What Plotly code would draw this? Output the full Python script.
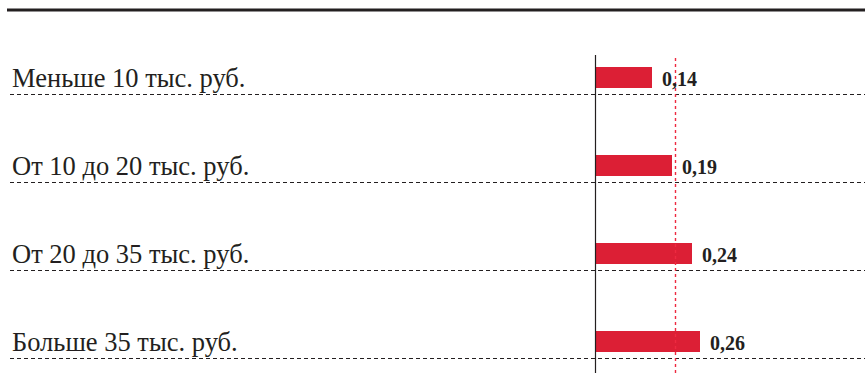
import plotly.graph_objects as go

categories = ["Меньше 10 тыс. руб.", "От 10 до 20 тыс. руб.", "От 20 до 35 тыс. руб.", "Больше 35 тыс. руб."]
values = [0.14, 0.19, 0.24, 0.26]
value_labels = ["0,14", "0,19", "0,24", "0,26"]
average = 0.20

W, H = 865, 373
x0_px = 595.5        # pixel of x=0
px_per_unit = 400
row_px = 88
first_center_px = 77.5

xr = [-x0_px / px_per_unit, (W - x0_px) / px_per_unit]
yr = [(H - first_center_px) / row_px, -first_center_px / row_px]

ypos = list(range(len(categories)))
ink = "#231f20"
red = "#dc1f35"

fig = go.Figure()
fig.add_trace(go.Bar(
    x=values, y=ypos, orientation="h",
    marker=dict(color=red, line=dict(width=0)),
    width=21 / row_px, hoverinfo="skip",
))

shapes = []
# top thick rule
shapes.append(dict(type="line", xref="paper", yref="paper",
                   x0=7 / W, x1=1, y0=1 - 10 / H, y1=1 - 10 / H,
                   line=dict(color=ink, width=3)))
# dashed row separators
for i in ypos:
    yy = i + 17 / row_px
    shapes.append(dict(type="line", xref="paper", yref="y",
                       x0=10 / W, x1=1, y0=yy, y1=yy,
                       line=dict(color=ink, width=1, dash="4px,3px")))
# vertical axis line
shapes.append(dict(type="line", xref="x", yref="paper",
                   x0=0, x1=0, y0=0, y1=1 - 55 / H,
                   line=dict(color=ink, width=1.2)))
# average red dashed line
shapes.append(dict(type="line", xref="x", yref="paper",
                   x0=average, x1=average, y0=0, y1=1 - 55 / H,
                   line=dict(color="#ee2a40", width=1.4, dash="3px,3px")))

annotations = []
for i, (c, v, lab) in enumerate(zip(categories, values, value_labels)):
    annotations.append(dict(
        x=10 / W, xref="paper", y=i, yref="y",
        text=c, showarrow=False, xanchor="left", yanchor="middle",
        font=dict(family="Liberation Serif", size=26.5, color=ink), yshift=0,
    ))
    annotations.append(dict(
        x=v, xref="x", y=i, yref="y",
        text="<b>" + lab + "</b>", showarrow=False, xanchor="left", yanchor="middle",
        xshift=8, yshift=-1,
        font=dict(family="Liberation Serif", size=20, color=ink),
    ))

fig.update_layout(
    width=W, height=H,
    margin=dict(l=0, r=0, t=0, b=0),
    paper_bgcolor="white", plot_bgcolor="white",
    showlegend=False,
    xaxis=dict(range=xr, visible=False, fixedrange=True),
    yaxis=dict(range=yr, visible=False, fixedrange=True),
    shapes=shapes, annotations=annotations,
    bargap=0,
)

fig.write_html("out.html", config={"displayModeBar": False},
               post_script="document.body.style.margin='0';")
